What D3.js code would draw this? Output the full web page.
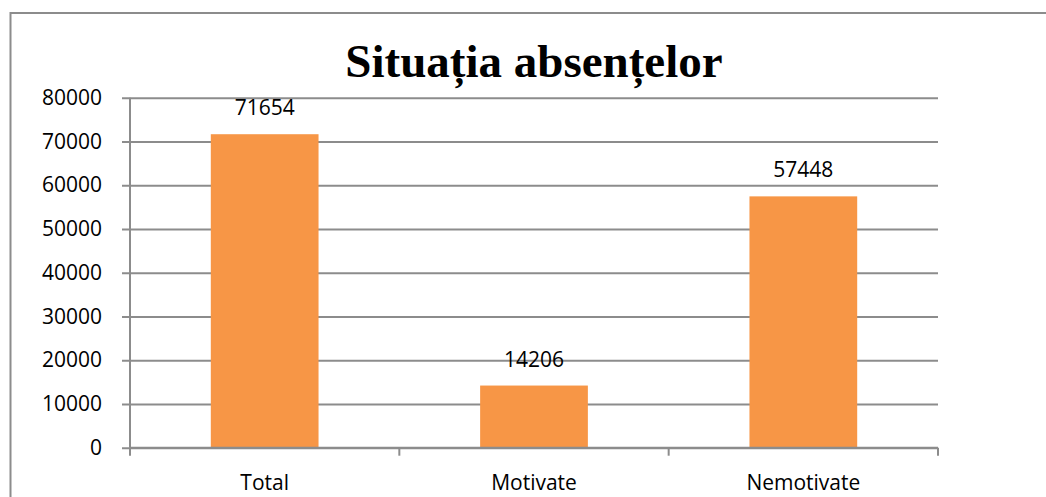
<!DOCTYPE html>
<html>
<head>
    <meta charset="utf-8">
    <title>Situația absențelor</title>
    <style>
        body { margin: 0; background: #fff; }
        svg { display: block; }
    </style>
    <script src="https://cdnjs.cloudflare.com/ajax/libs/d3/7.8.5/d3.min.js"></script>
</head>
<body>
    <script>
        const categories = ["Total", "Motivate", "Nemotivate"]
        const values = [71654, 14206, 57448]
        const yTicks = [0, 10000, 20000, 30000, 40000, 50000, 60000, 70000, 80000]

        const width = 1046
        const height = 497
        const plot = {left: 130, right: 938, top: 97.7, bottom: 447.7}
        const grid = "#8c8c8c"
        const labelFont = "'Open Sans', sans-serif"
        const labelSize = 21

        let svg = d3.select("body").append("svg")
            .attr("width", width)
            .attr("height", height)

        // chart border (right and bottom edges fall outside the window)
        svg.append("rect")
            .attr("x", 10.5)
            .attr("y", 13)
            .attr("width", width + 20)
            .attr("height", height + 20)
            .attr("fill", "none")
            .attr("stroke", grid)
            .attr("stroke-width", 2)

        let x_scale = d3.scaleBand()
            .domain(categories)
            .range([plot.left, plot.right])
            .paddingInner(0.6)
            .paddingOuter(0.3)
        let x_cat = d3.scaleBand()
            .domain(categories)
            .range([plot.left, plot.right])
        let y_scale = d3.scaleLinear()
            .domain([0, 80000])
            .range([plot.bottom, plot.top])

        // gridlines + y axis
        let y_axis = svg.append("g")
            .attr("transform", `translate(${plot.left}, 0)`)
            .call(d3.axisLeft(y_scale)
                .tickValues(yTicks)
                .tickFormat(d3.format("d"))
                .tickSize(-(plot.right - plot.left))
                .tickSizeOuter(0)
                .tickPadding(28))
        y_axis.select(".domain").remove()
        y_axis.selectAll(".tick line")
            .attr("x1", -8)
            .attr("stroke", grid)
            .attr("stroke-width", 2)
        y_axis.selectAll(".tick text")
            .attr("font-family", labelFont)
            .attr("font-size", labelSize)
            .attr("fill", "#000")

        // vertical axis line
        svg.append("line")
            .attr("x1", plot.left).attr("x2", plot.left)
            .attr("y1", plot.top).attr("y2", plot.bottom)
            .attr("stroke", grid)
            .attr("stroke-width", 2)

        // bars
        svg.selectAll(".bar")
            .data(values)
            .enter()
            .append("rect")
                .attr("class", "bar")
                .attr("x", (d, i) => x_scale(categories[i]))
                .attr("y", d => y_scale(d))
                .attr("width", x_scale.bandwidth())
                .attr("height", d => y_scale(0) - y_scale(d))
                .attr("fill", "#F79646")

        // x axis
        let x_axis = svg.append("g")
            .attr("transform", `translate(0, ${plot.bottom})`)
        x_axis.append("line")
            .attr("x1", plot.left).attr("x2", plot.right)
            .attr("stroke", grid)
            .attr("stroke-width", 2)
        x_axis.selectAll(".xtick")
            .data(categories.concat([null]))
            .enter()
            .append("line")
                .attr("class", "xtick")
                .attr("x1", d => d ? x_cat(d) : plot.right)
                .attr("x2", d => d ? x_cat(d) : plot.right)
                .attr("y1", 0)
                .attr("y2", 8)
                .attr("stroke", grid)
                .attr("stroke-width", 2)
        x_axis.selectAll(".xlabel")
            .data(categories)
            .enter()
            .append("text")
                .attr("class", "xlabel")
                .attr("x", d => x_cat(d) + x_cat.bandwidth() / 2)
                .attr("y", 42)
                .attr("text-anchor", "middle")
                .attr("font-family", labelFont)
                .attr("font-size", labelSize)
                .text(d => d)

        // value labels
        svg.selectAll(".val")
            .data(values)
            .enter()
            .append("text")
                .attr("class", "val")
                .attr("x", (d, i) => x_scale(categories[i]) + x_scale.bandwidth() / 2)
                .attr("y", d => y_scale(d) - 19)
                .attr("text-anchor", "middle")
                .attr("font-family", labelFont)
                .attr("font-size", labelSize)
                .text(d => d)

        // title, centred over the plot area
        svg.append("text")
            .attr("x", (plot.left + plot.right) / 2)
            .attr("y", 77)
            .attr("text-anchor", "middle")
            .attr("font-family", "'Liberation Serif', 'Times New Roman', serif")
            .attr("font-weight", "bold")
            .attr("font-size", 47)
            .text("Situația absențelor")
    </script>
</body>
</html>
